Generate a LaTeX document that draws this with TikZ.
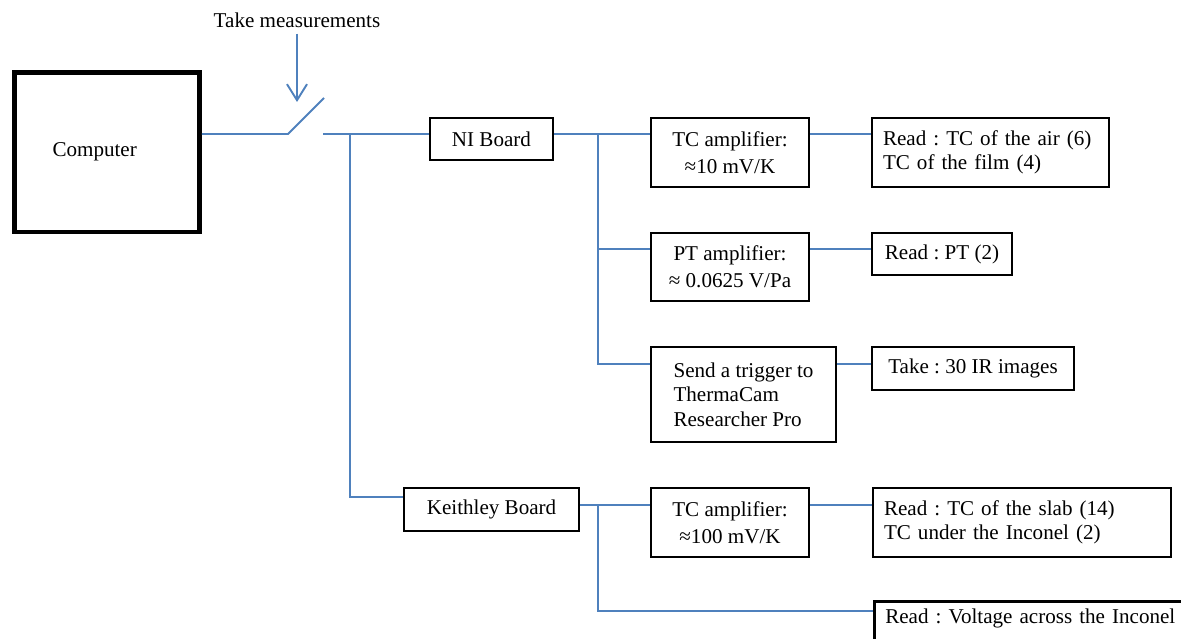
\documentclass[tikz,border=0pt]{standalone}
\usepackage{fontspec}
\setmainfont{Liberation Serif}
\usetikzlibrary{arrows.meta}
\definecolor{wireblue}{RGB}{79,129,189}
\tikzset{
	box/.style={draw,line width=1.5pt,align=center,font=\fontsize{12}{14}\selectfont\frenchspacing},
	ampbox/.style={box,font=\fontsize{12}{15.3}\selectfont,minimum width=3.16cm,minimum height=1.38cm},
	readbox/.style={box,align=left,inner xsep=0.22cm},
	wire/.style={draw=wireblue,line width=1.1pt},
}

\begin{document}
\begin{tikzpicture}[x=0.02cm,y=-0.02cm]
	\useasboundingbox (0,0) rectangle (1181,639);
	\clip (0,0) rectangle (1181,639);
	% wire heights
	\coordinate (row1) at (0,134);
	\coordinate (row2) at (0,249);
	\coordinate (row3) at (0,364);
	\coordinate (kin) at (0,497);
	\coordinate (row4) at (0,505);
	\coordinate (row5) at (0,611);
	% boxes
	\node[box,line width=2.6pt,align=left,inner xsep=0.76cm,text width=2.18cm,minimum height=3.19cm] (computer) at (107,152.25) {Computer};
	\node[box,minimum width=2.46cm,minimum height=0.84cm] (ni) at (491.5,139) {NI Board};
	\node[ampbox] (tcamp) at (730,152.5) {TC amplifier:\\≈10 mV/K};
	\node[readbox,text width=4.3cm,minimum height=1.38cm] (readair) at (990.5,152.5) {Read : TC of the air (6)\\TC of the film (4)};
	\node[ampbox,minimum height=1.36cm] (ptamp) at (730,267) {PT amplifier:\\≈ 0.0625 V/Pa};
	\node[box,minimum width=2.8cm,minimum height=0.84cm] (readpt) at (942,254) {Read : PT (2)};
	\node[box,align=left,minimum width=3.7cm,minimum height=1.9cm] (trigger) at (743.5,394.5) {Send a trigger to\\ThermaCam\\Researcher Pro};
	\node[box,minimum width=4.04cm,minimum height=0.86cm] (takeir) at (973,368.5) {Take : 30 IR images};
	\node[box,minimum width=3.5cm,minimum height=0.86cm] (keithley) at (491.5,509.5) {Keithley Board};
	\node[ampbox] (tcamp2) at (730,522.5) {TC amplifier:\\≈100 mV/K};
	\node[readbox,text width=5.52cm,minimum height=1.38cm] (readslab) at (1022,522.5) {Read : TC of the slab (14)\\TC under the Inconel (2)};
	\node[readbox,anchor=north west,text width=6.2cm,inner ysep=0.16cm,text depth=2cm] (readvolt) at (873,600) {Read : Voltage across the Inconel};
	% switch
	\node[font=\fontsize{12}{14}\selectfont] (take) at (297,20) {Take measurements};
	\coordinate (press) at (297,102);
	\coordinate (swpivot) at (288,134);
	\coordinate (swblade) at (324,98);
	\coordinate (swcontact) at (323,134);
	\coordinate (trunk) at (350,134);
	\coordinate (nisplit) at (598,134);
	\coordinate (ksplit) at (598,505);
	\draw[wire,-{Straight Barb[length=0.32cm,width=0.4cm]}] (take.south) -- (press);
	\draw[wire] (computer.east |- row1) -- (swpivot) -- (swblade);
	\draw[wire] (swcontact) -- (ni.west |- row1);
	\draw[wire] (trunk) |- (keithley.west |- kin);
	% NI board branches
	\draw[wire] (ni.east |- row1) -- (tcamp.west |- row1);
	\draw[wire] (nisplit) |- (ptamp.west |- row2);
	\draw[wire] (nisplit) |- (trigger.west |- row3);
	\draw[wire] (tcamp.east |- row1) -- (readair.west |- row1);
	\draw[wire] (ptamp.east |- row2) -- (readpt.west |- row2);
	\draw[wire] (trigger.east |- row3) -- (takeir.west |- row3);
	% Keithley board branches
	\draw[wire] (keithley.east |- row4) -- (tcamp2.west |- row4);
	\draw[wire] (ksplit) |- (readvolt.west |- row5);
	\draw[wire] (tcamp2.east |- row4) -- (readslab.west |- row4);
\end{tikzpicture}
\end{document}
